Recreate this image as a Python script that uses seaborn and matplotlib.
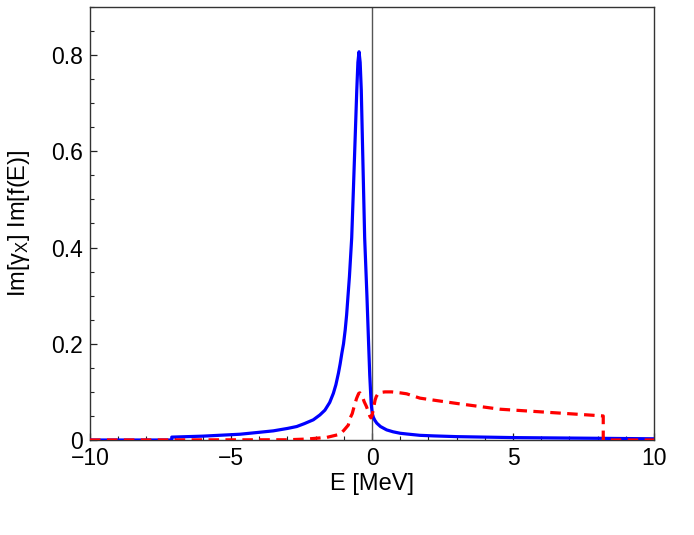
import matplotlib
matplotlib.use("Agg")
import matplotlib.pyplot as plt
import seaborn as sns
import pandas as pd
from matplotlib.ticker import MultipleLocator, FuncFormatter

# ---- data ----
blue_E = [-10, -7.1, -7.1, -6.0, -4.68, -4.0, -3.5, -3.0, -2.67, -2.4, -2.08,
          -1.85, -1.67, -1.5, -1.37, -1.28, -1.19, -1.13, -1.07, -1.01, -0.95,
          -0.9, -0.85, -0.8, -0.72, -0.66, -0.6, -0.54, -0.5, -0.46, -0.42,
          -0.38, -0.34, -0.26, -0.18, -0.12, -0.08, -0.03, 0.01, 0.05, 0.1,
          0.17, 0.3, 0.52, 0.75, 1.0, 1.23, 1.7, 2.2, 3.0, 5.0, 8.1, 10]
blue_V = [0, 0, 0.006, 0.008, 0.012, 0.016, 0.019, 0.024, 0.028, 0.034, 0.042,
          0.052, 0.062, 0.078, 0.097, 0.115, 0.139, 0.158, 0.18, 0.20, 0.229,
          0.26, 0.30, 0.34, 0.42, 0.52, 0.623, 0.727, 0.785, 0.807, 0.785,
          0.727, 0.623, 0.42, 0.30, 0.20, 0.135, 0.076, 0.055, 0.047, 0.041,
          0.035, 0.028, 0.021, 0.017, 0.014, 0.0125, 0.0097, 0.0085, 0.007,
          0.005, 0.0035, 0.0025]

red_E = [-10, -3.0, -2.3, -1.6, -1.13, -1.0, -0.84, -0.78, -0.7, -0.65, -0.6,
         -0.55, -0.5, -0.47, -0.43, -0.4, -0.36, -0.32, -0.28, -0.2, -0.13,
         -0.08, -0.04, 0.0, 0.06, 0.11, 0.15, 0.22, 0.33, 0.46, 0.7, 1.0, 1.23,
         1.7, 2.17, 3.0, 4.54, 6.9, 8.2, 8.2, 10]
red_V = [0, 0.0005, 0.002, 0.0055, 0.012, 0.02, 0.031, 0.045, 0.055, 0.066,
         0.076, 0.086, 0.093, 0.097, 0.098, 0.096, 0.092, 0.087, 0.08, 0.07,
         0.059, 0.05, 0.046, 0.05, 0.068, 0.083, 0.09, 0.097, 0.099, 0.10, 0.10,
         0.098, 0.096, 0.087, 0.083, 0.076, 0.064, 0.055, 0.050, 0, 0]

x_ticks = [-10, -5, 0, 5, 10]
y_ticks = [0, 0.2, 0.4, 0.6, 0.8]

sns.set_theme(style="white")
plt.rcParams['font.family'] = ['Liberation Sans', 'DejaVu Sans']
plt.rcParams['mathtext.fontset'] = 'custom'
plt.rcParams['mathtext.rm'] = 'Liberation Sans'
plt.rcParams['mathtext.it'] = 'Liberation Sans:italic'
plt.rcParams['text.color'] = 'black'
plt.rcParams['axes.labelcolor'] = 'black'
plt.rcParams['xtick.color'] = 'black'
plt.rcParams['ytick.color'] = 'black'

fig = plt.figure(figsize=(6.94, 5.35), dpi=100)
ax = fig.add_axes([90/694, 1-440/535, (654-90)/694, (440-7)/535])

dfb = pd.DataFrame({"E": blue_E, "V": blue_V})
dfr = pd.DataFrame({"E": red_E, "V": red_V})

ax.axvline(0, color="#555555", lw=1.0, zorder=1)
sns.lineplot(data=dfb, x="E", y="V", sort=False, estimator=None, ax=ax,
             color="#0000ff", lw=2.3, zorder=3)
sns.lineplot(data=dfr, x="E", y="V", sort=False, estimator=None, ax=ax,
             color="#ff0000", lw=2.3, dashes=False, zorder=4)
ax.lines[-1].set_dashes((3.3, 2.0))
for ln in ax.lines:
    ln.set_solid_joinstyle("round")
    ln.set_dash_joinstyle("round")

ax.set_xlim(-10, 10)
ax.set_ylim(0, 0.9)
ax.set_xticks(x_ticks)
ax.set_yticks(y_ticks)
ax.xaxis.set_minor_locator(MultipleLocator(1))
ax.yaxis.set_minor_locator(MultipleLocator(0.05))
ax.xaxis.set_major_formatter(FuncFormatter(lambda v, p: f"{int(v)}".replace("-", "\u2212")))
ax.yaxis.set_major_formatter(FuncFormatter(lambda v, p: "0" if abs(v) < 1e-9 else f"{v:.1f}"))

ax.tick_params(which="both", direction="in", top=False, right=False,
               left=True, bottom=True, color="#222222", labelsize=16.5,
               labelcolor="black")
ax.tick_params(which="major", length=5, width=0.9, pad=5)
ax.tick_params(which="minor", length=3, width=0.8)

for s in ax.spines.values():
    s.set_color("#333333")
    s.set_linewidth(1.0)

ax.set_xlabel("E [MeV]", fontsize=17, labelpad=2, color="black")
ax.set_ylabel(r"Im[$\mathrm{\gamma}_\mathrm{X}$] Im[f(E)]", fontsize=17,
              labelpad=14, color="black")

fig.savefig("out.png", dpi=100)
